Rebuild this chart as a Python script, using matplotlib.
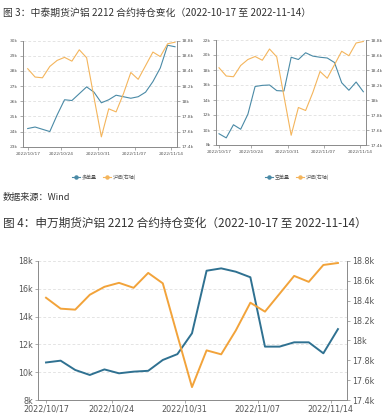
import matplotlib
matplotlib.use('Agg')
import matplotlib.pyplot as plt
from matplotlib.lines import Line2D
from matplotlib.ticker import FuncFormatter, MultipleLocator

plt.rcParams['font.family'] = ['Noto Sans CJK SC', 'DejaVu Sans']

# trading days 2022-10-17 .. 2022-11-14
dates = ['2022/10/17', '2022/10/18', '2022/10/19', '2022/10/20', '2022/10/21',
         '2022/10/24', '2022/10/25', '2022/10/26', '2022/10/27', '2022/10/28',
         '2022/10/31', '2022/11/01', '2022/11/02', '2022/11/03', '2022/11/04',
         '2022/11/07', '2022/11/08', '2022/11/09', '2022/11/10', '2022/11/11',
         '2022/11/14']

# 沪铝 price (right axis)
price = [18430, 18320, 18310, 18460, 18540, 18580, 18530, 18680, 18575, 18050,
         17530, 17900, 17860, 18100, 18380, 18290, 18470, 18650, 18590, 18760,
         18780]

# 中泰期货 多单量
long_pos = [24200, 24300, 24150, 24000, 25100, 26100, 26050, 26500, 26950, 26600,
            25900, 26100, 26400, 26300, 26200, 26300, 26600, 27300, 28200, 29700,
            29600]

# 中泰期货 空单量
short_pos = [9500, 8950, 10700, 10100, 12100, 15800, 15950, 16000, 15250, 15200,
             19700, 19400, 20300, 19850, 19700, 19600, 19000, 16300, 15300, 16400,
             15100]

# 申万期货 持仓
sw_pos = [10700, 10830, 10160, 9800, 10200, 9920, 10040, 10100, 10880, 11300,
          12800, 17300, 17470, 17230, 16830, 11840, 11840, 12150, 12150, 11360,
          13100]

title1 = '图 3：中泰期货沪铝 2212 合约持仓变化（2022-10-17 至 2022-11-14）'
title2 = '图 4：申万期货沪铝 2212 合约持仓变化（2022-10-17 至 2022-11-14）'
source = '数据来源：Wind'

BLUE = '#2f7191'
ORANGE = '#f2a33a'
W, H = 390, 419


def kfmt(v, pos):
    s = ('%.1f' % (v / 1000)).rstrip('0').rstrip('.')
    return s + 'k'


def box(x0, y0, x1, y1):
    # pixel box (top-left origin) -> figure rect
    return [x0 / W, 1 - y1 / H, (x1 - x0) / W, (y1 - y0) / H]


def panel(fig, rect, vals, ylim, ystep, xlim, fs, lw, blue, orange):
    ax = fig.add_axes(rect)
    x = list(range(len(dates)))
    ax.plot(x, vals, color=blue, lw=lw)
    ax.set_xlim(*xlim)
    ax.set_ylim(*ylim)
    ax.yaxis.set_major_locator(MultipleLocator(ystep))
    ax.yaxis.set_major_formatter(FuncFormatter(kfmt))
    ax.yaxis.grid(True, ls=(0, (4, 3)), color='#d9d9d9', lw=0.5)
    ax.set_axisbelow(True)
    tick_idx = list(range(0, len(dates), 5))
    ax.set_xticks([i - (0.5 if i else 0) for i in tick_idx])
    ax.set_xticklabels([dates[i] for i in tick_idx], family='DejaVu Sans')

    ax2 = ax.twinx()
    ax2.plot(x, price, color=orange, lw=lw)
    ax2.set_ylim(17400, 18800)
    ax2.yaxis.set_major_locator(MultipleLocator(200))
    ax2.yaxis.set_major_formatter(FuncFormatter(kfmt))

    for a in (ax, ax2):
        a.spines['top'].set_visible(False)
        for s in ('left', 'right', 'bottom'):
            a.spines[s].set_color('#8a8a8a')
            a.spines[s].set_linewidth(0.6)
        a.tick_params(labelsize=fs, colors='#8a8a8a', labelcolor='#555555',
                      length=2, width=0.5, pad=1.5)
        for lab in a.get_yticklabels():
            lab.set_family('DejaVu Sans')
    return ax, ax2


fig = plt.figure(figsize=(W / 100, H / 100), dpi=100)

# top-left: 多单量
panel(fig, box(22.7, 40.7, 177, 146.7), long_pos, (23000, 30000), 1000,
      (-0.68, 20.27), 3.2, 0.8, '#4a8aa6', '#f4b55c')
# top-right: 空单量
panel(fig, box(215.7, 40, 366, 145), short_pos, (8000, 22000), 2000,
      (-0.46, 20.37), 3.2, 0.8, '#4a8aa6', '#f4b55c')
# bottom: 申万
panel(fig, box(38, 261, 347, 400), sw_pos, (8000, 18000), 2000,
      (-0.55, 20.62), 5.8, 1.4, BLUE, ORANGE)

for cx, name in ((104, '多单量'), (297, '空单量')):
    handles = [Line2D([], [], color='#4a8aa6', lw=0.8, marker='o', ms=2.2),
               Line2D([], [], color='#f4b55c', lw=0.8, marker='o', ms=2.2)]
    fig.legend(handles, [name, '沪铝(右轴)'], loc='center',
               bbox_to_anchor=(cx / W, 1 - 177 / H), ncol=2, frameon=False,
               fontsize=3.6, handlelength=1.6, columnspacing=1.2,
               handletextpad=0.4, labelcolor='#555555')

fig.text(3 / W, 1 - 13 / H, title1, fontsize=7.1, va='center', color='#333333')
fig.text(3 / W, 1 - 197 / H, source, fontsize=6.6, va='center', color='#333333')
fig.text(3 / W, 1 - 223 / H, title2, fontsize=8.4, va='center', color='#333333')

fig.savefig('out.png', dpi=100)
